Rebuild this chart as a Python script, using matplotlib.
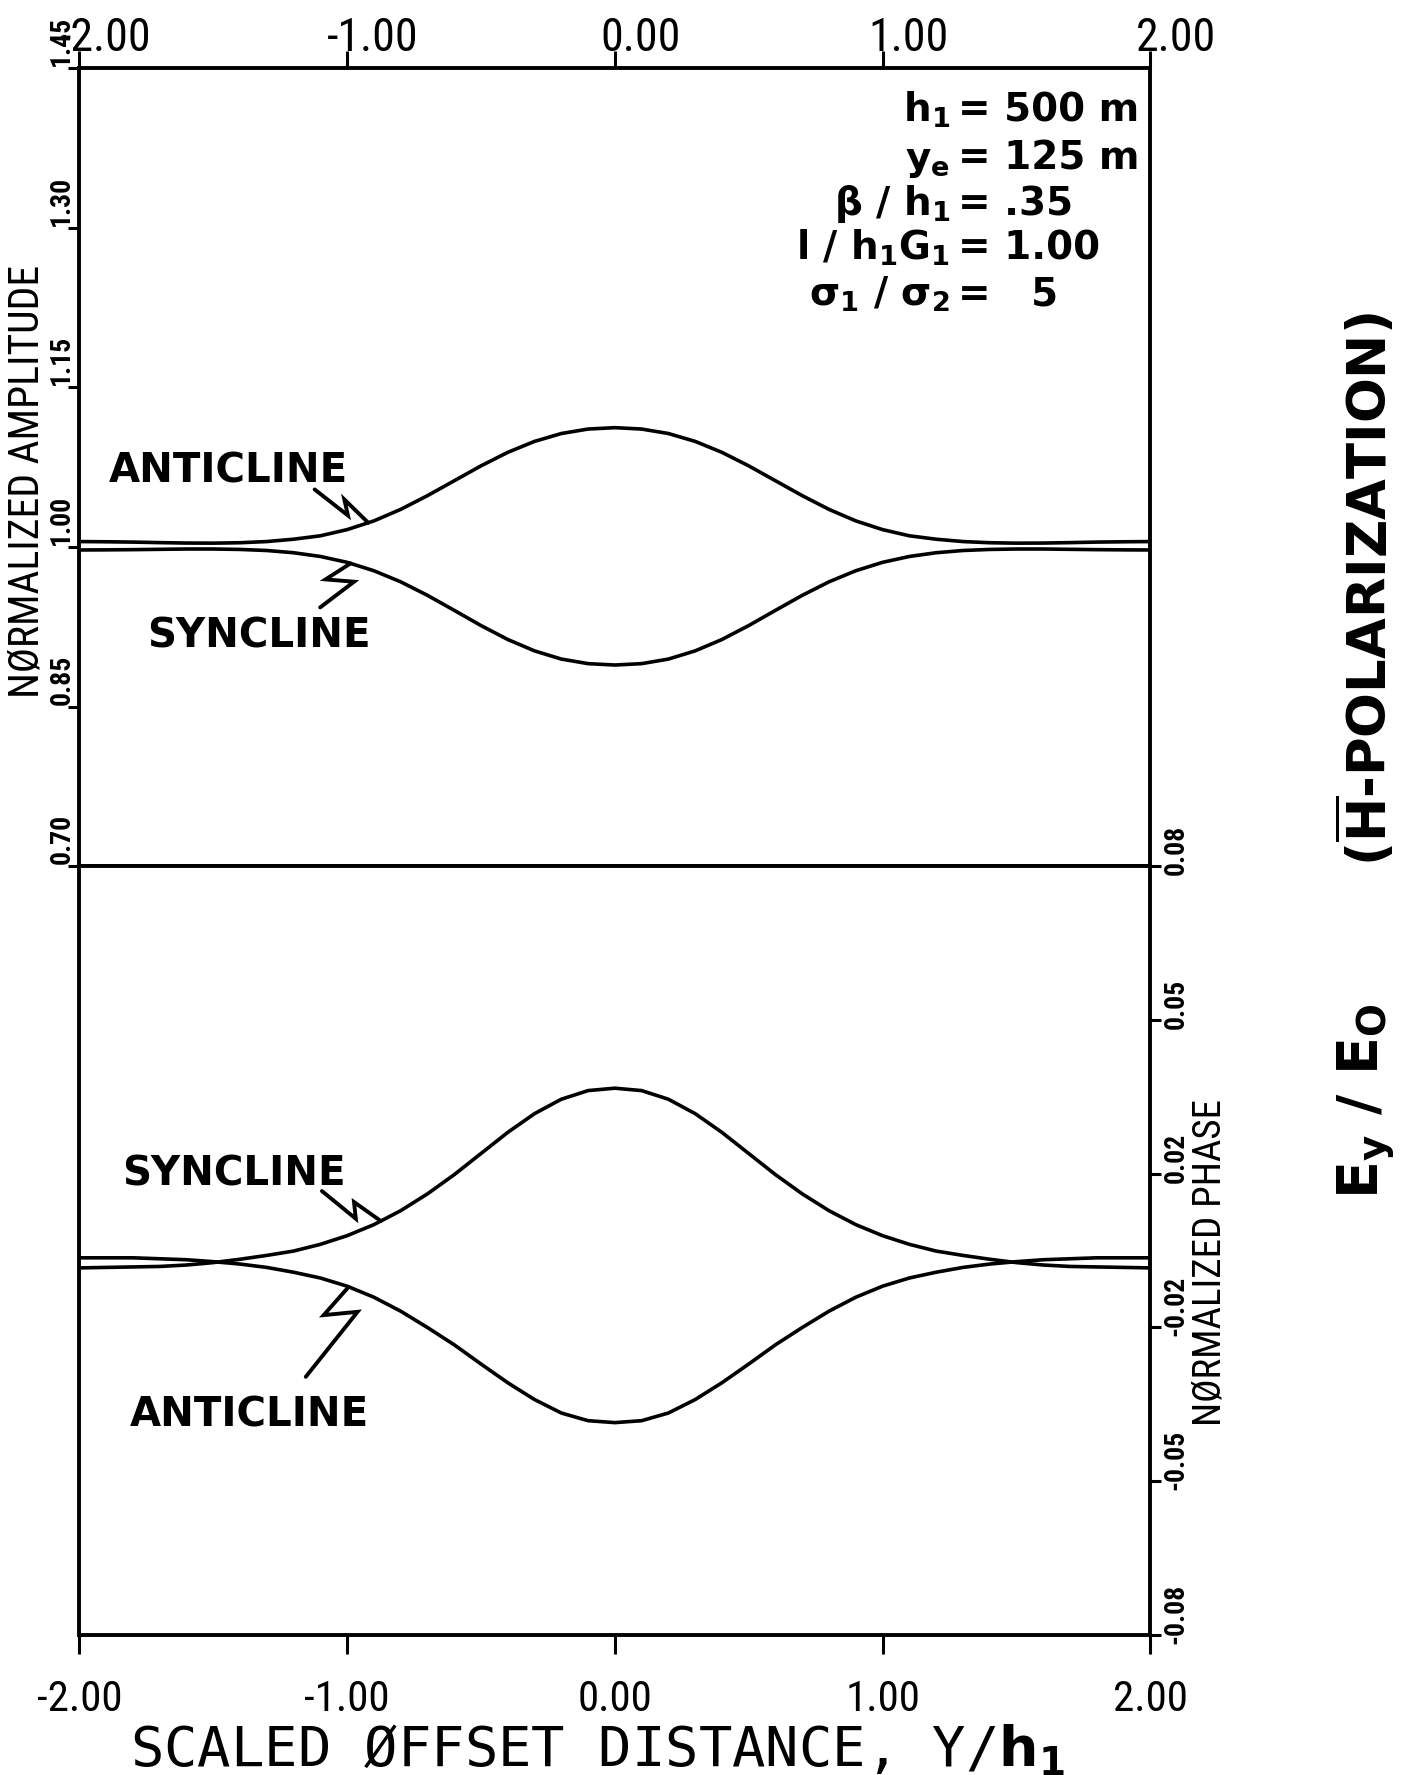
import numpy as np
import matplotlib
matplotlib.use("Agg")
import matplotlib.pyplot as plt
import matplotlib.transforms as mtransforms
from matplotlib import font_manager

# ---------------- data ----------------
offset = [-2.0, -1.9, -1.8, -1.7, -1.6, -1.5, -1.4, -1.3, -1.2, -1.1,
          -1.0, -0.9, -0.8, -0.7, -0.6, -0.5, -0.4, -0.3, -0.2, -0.1,
          0.0, 0.1, 0.2, 0.3, 0.4, 0.5, 0.6, 0.7, 0.8, 0.9,
          1.0, 1.1, 1.2, 1.3, 1.4, 1.5, 1.6, 1.7, 1.8, 1.9, 2.0]

amp_anticline = [1.0050, 1.0048, 1.0045, 1.0040, 1.0036, 1.0035, 1.0039, 1.0050, 1.0072, 1.0104,
                 1.0162, 1.0244, 1.0352, 1.0481, 1.0621, 1.0761, 1.0888, 1.0991, 1.1065, 1.1107,
                 1.1120, 1.1107, 1.1065, 1.0991, 1.0888, 1.0761, 1.0621, 1.0481, 1.0352, 1.0244,
                 1.0162, 1.0104, 1.0072, 1.0050, 1.0039, 1.0035, 1.0036, 1.0040, 1.0045, 1.0048, 1.0050]

amp_syncline = [0.9971, 0.9972, 0.9974, 0.9977, 0.9980, 0.9980, 0.9976, 0.9966, 0.9945, 0.9910,
                0.9855, 0.9776, 0.9672, 0.9545, 0.9404, 0.9261, 0.9130, 0.9023, 0.8946, 0.8903,
                0.8890, 0.8903, 0.8946, 0.9023, 0.9130, 0.9261, 0.9404, 0.9545, 0.9672, 0.9776,
                0.9855, 0.9910, 0.9945, 0.9966, 0.9976, 0.9980, 0.9980, 0.9977, 0.9974, 0.9972, 0.9971]

phase_syncline = [-0.0036, -0.0035, -0.0034, -0.0033, -0.0030, -0.0025, -0.0018, -0.0010, -0.0001, 0.0013,
                  0.0031, 0.0054, 0.0083, 0.0118, 0.0158, 0.0202, 0.0246, 0.0285, 0.0315, 0.0333,
                  0.0338, 0.0333, 0.0315, 0.0285, 0.0246, 0.0202, 0.0158, 0.0118, 0.0083, 0.0054,
                  0.0031, 0.0013, -0.0001, -0.0010, -0.0018, -0.0025, -0.0030, -0.0033, -0.0034, -0.0035, -0.0036]

phase_anticline = [-0.0015, -0.0015, -0.0015, -0.0017, -0.0019, -0.0023, -0.0028, -0.0035, -0.0045, -0.0057,
                   -0.0074, -0.0097, -0.0126, -0.0160, -0.0196, -0.0236, -0.0275, -0.0310, -0.0338, -0.0354,
                   -0.0358, -0.0354, -0.0338, -0.0310, -0.0275, -0.0236, -0.0196, -0.0160, -0.0126, -0.0097,
                   -0.0074, -0.0057, -0.0045, -0.0035, -0.0028, -0.0023, -0.0019, -0.0017, -0.0015, -0.0015, -0.0015]

x_ticks = [-2.0, -1.0, 0.0, 1.0, 2.0]
x_tick_labels = ["-2.00", "-1.00", "0.00", "1.00", "2.00"]
amp_ticks = [0.70, 0.85, 1.00, 1.15, 1.30, 1.45]
amp_tick_labels = ["0.70", "0.85", "1.00", "1.15", "1.30", "1.45"]
phase_ticks = [0.08, 0.048, 0.016, -0.016, -0.048, -0.08]
phase_tick_labels = ["0.08", "0.05", "0.02", "-0.02", "-0.05", "-0.08"]

param_names = ["h$_\\mathbf{1}$", "y$_\\mathbf{e}$", "β / h$_\\mathbf{1}$",
               "l / h$_\\mathbf{1}$G$_\\mathbf{1}$", "σ$_\\mathbf{1}$ / σ$_\\mathbf{2}$"]
param_values = ["= 500 m", "= 125 m", "= .35", "= 1.00", "=   5"]

# ---------------- fonts ----------------
avail = {f.name for f in font_manager.fontManager.ttflist}


def pick(cands, default="DejaVu Sans"):
    for c in cands:
        if c in avail:
            return c
    return default


NARROW = pick(["Liberation Sans Narrow", "Roboto Condensed", "DejaVu Sans Condensed"])
MONO = pick(["DejaVu Sans Mono", "Liberation Mono"])
plt.rcParams["mathtext.fontset"] = "dejavusans"
plt.rcParams["font.family"] = ["DejaVu Sans"]

# ---------------- layout ----------------
W, H = 1404, 1775
L, R = 79.3, 1150.4
T, M, B = 67.9, 866.2, 1635.0

fig = plt.figure(figsize=(W / 100, H / 100), dpi=100)
ax1 = fig.add_axes([L / W, 1 - M / H, (R - L) / W, (M - T) / H])
ax2 = fig.add_axes([L / W, 1 - B / H, (R - L) / W, (B - M) / H])

LW_SPINE = 2.8
LW_CURVE = 2.6
for ax in (ax1, ax2):
    for s in ax.spines.values():
        s.set_linewidth(LW_SPINE)
        s.set_color("black")
    ax.set_xlim(-2, 2)

line_kw = dict(color="black", lw=LW_CURVE, solid_capstyle="butt", solid_joinstyle="round")
ax1.plot(offset, amp_anticline, **line_kw)
ax1.plot(offset, amp_syncline, **line_kw)
ax2.plot(offset, phase_syncline, **line_kw)
ax2.plot(offset, phase_anticline, **line_kw)

ax1.set_ylim(0.70, 1.45)
ax2.set_ylim(-0.08, 0.08)

# ticks
ax1.set_xticks(x_ticks)
ax1.tick_params(axis="x", top=True, bottom=False, direction="out", length=12, width=2.2,
                labeltop=False, labelbottom=False)
ax1.set_yticks(amp_ticks)
ax1.tick_params(axis="y", left=True, right=False, direction="out", length=8, width=2.2,
                labelleft=False, labelright=False)
ax2.set_xticks(x_ticks)
ax2.tick_params(axis="x", top=False, bottom=True, direction="out", length=14, width=2.2,
                labeltop=False, labelbottom=False)
ax2.set_yticks(phase_ticks)
ax2.tick_params(axis="y", left=False, right=True, direction="out", length=8, width=2.2,
                labelleft=False, labelright=False)

# tick labels (manual, plotter style)
tick_font = dict(family=[NARROW, "DejaVu Sans"], fontstretch="condensed", color="black")
b1 = mtransforms.blended_transform_factory(ax1.transData, ax1.transAxes)
for v, lab in zip(x_ticks, x_tick_labels):
    ax1.text(v, 1, lab, transform=mtransforms.offset_copy(b1, fig=fig, x=26, y=17, units="dots"),
             ha="center", va="baseline", fontsize=33, **tick_font)
b2 = mtransforms.blended_transform_factory(ax2.transData, ax2.transAxes)
for v, lab in zip(x_ticks, x_tick_labels):
    ax2.text(v, 0, lab, transform=mtransforms.offset_copy(b2, fig=fig, x=0, y=-76, units="dots"),
             ha="center", va="baseline", fontsize=31, **tick_font)
by1 = mtransforms.blended_transform_factory(ax1.transAxes, ax1.transData)
for v, lab in zip(amp_ticks, amp_tick_labels):
    ax1.text(0, v, lab, transform=mtransforms.offset_copy(by1, fig=fig, x=-10, y=2, units="dots"),
             rotation=90, rotation_mode="anchor", ha="left", va="baseline", fontsize=20,
             fontweight="bold", clip_on=False, **tick_font)
by2 = mtransforms.blended_transform_factory(ax2.transAxes, ax2.transData)
for v, lab in zip(phase_ticks, phase_tick_labels):
    ax2.text(1, v, lab, transform=mtransforms.offset_copy(by2, fig=fig, x=12, y=-9, units="dots"),
             rotation=90, rotation_mode="anchor", ha="left", va="top", fontsize=20,
             fontweight="bold", clip_on=False, **tick_font)

# axis titles
fig.text(27 / W, 1 - 481 / H, "NØRMALIZED AMPLITUDE", rotation=90, ha="center", va="center",
         fontsize=30, **tick_font)
fig.text(1210 / W, 1 - 1262 / H, "NØRMALIZED PHASE", rotation=90, ha="center", va="center",
         fontsize=28, **tick_font)
fig.text(598 / W, 1 - 1766 / H, "SCALED ØFFSET DISTANCE, Y/" + r"$\mathbf{h_1}$",
         ha="center", va="baseline", fontsize=40, family=[MONO, "DejaVu Sans"], color="black")

# right side titles
fig.text(1366 / W, 1 - 1101 / H, r"E$_\mathbf{y}$ / E$_\mathbf{O}$", rotation=90,
         ha="center", va="center", fontsize=40, fontweight="bold", color="black")
fig.text(1366 / W, 1 - 589 / H, r"($\overline{\mathbf{H}}$-POLARIZATION)", rotation=90,
         ha="center", va="center", fontsize=38, fontweight="bold", color="black")

# parameter block
param_baselines = [122, 170, 215, 260, 306]
for name, val, yb in zip(param_names, param_values, param_baselines):
    fig.text(950 / W, 1 - yb / H, name, ha="right", va="baseline", fontsize=28,
             fontweight="bold", color="black")
    fig.text(958 / W, 1 - yb / H, val, ha="left", va="baseline", fontsize=28,
             fontweight="bold", color="black")

# curve labels with lightning pointers
label_font = dict(fontsize=29, fontweight="bold", color="black", ha="center", va="center")
ax1.text(-1.442, 1.071, "ANTICLINE", **label_font)
ax1.text(-1.331, 0.9156, "SYNCLINE", **label_font)
ax2.text(-1.421, 0.0159, "SYNCLINE", **label_font)
ax2.text(-1.364, -0.0343, "ANTICLINE", **label_font)


def bolt(ax, xt, series, shape_px):
    yt = float(np.interp(xt, offset, series))
    tr = fig.dpi_scale_trans + mtransforms.ScaledTranslation(xt, yt, ax.transData)
    xs = [p[0] / 100 for p in shape_px]
    ys = [p[1] / 100 for p in shape_px]
    ax.plot(xs, ys, transform=tr, color="black", lw=2.8, clip_on=False,
            solid_joinstyle="miter", solid_capstyle="round")


bolt(ax1, -0.921, amp_anticline, [(-53.6, 33.3), (-20.3, 7.3), (-23.9, 23.3), (0, 0)])
bolt(ax1, -0.987, amp_syncline, [(-30.4, -44), (3.5, -18.3), (-25, -16), (0, 0)])
bolt(ax2, -0.874, phase_syncline, [(-58.9, 30), (-25, 2.3), (-26.8, 19), (0, 0)])
bolt(ax2, -0.994, phase_anticline, [(-42.9, -90), (8.9, -25), (-25, -28.3), (0, 0)])

ax1.set_xlim(-2, 2)
ax1.set_ylim(0.70, 1.45)
ax2.set_xlim(-2, 2)
ax2.set_ylim(-0.08, 0.08)

fig.savefig("out.png", dpi=100, facecolor="white")
